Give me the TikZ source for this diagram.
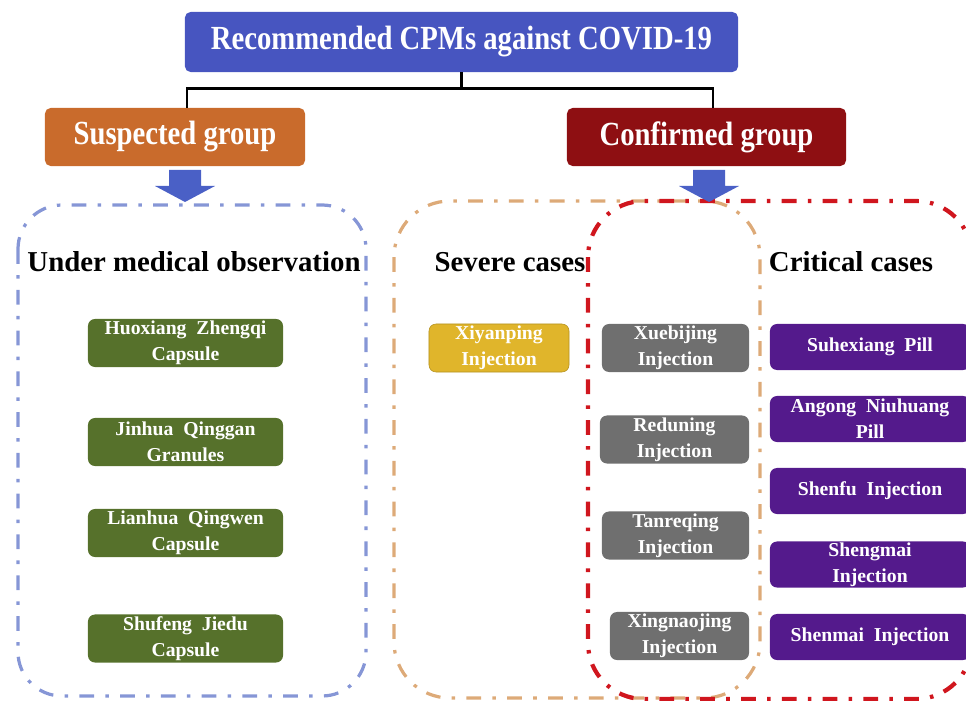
\documentclass[tikz,border=0pt]{standalone}
\usepackage{fontspec}
\setmainfont{Liberation Serif}
\newfontfamily\condfont[FakeStretch=0.85]{Liberation Serif}
\usetikzlibrary{
  positioning
}
\definecolor{titleblue}{HTML}{4755C0}
\definecolor{suspect}{HTML}{C96B2C}
\definecolor{confirm}{HTML}{8E0F12}
\definecolor{arrowblue}{HTML}{4A60C6}
\definecolor{obsline}{HTML}{8696D6}
\definecolor{severeline}{HTML}{DDAA78}
\definecolor{criticalline}{HTML}{D0161E}
\definecolor{herbgreen}{HTML}{56712B}
\definecolor{injyellow}{HTML}{E0B52B}
\definecolor{injgray}{HTML}{6F6F6F}
\definecolor{pillpurple}{HTML}{541A8C}

\begin{document}
\begin{tikzpicture}[
  x=0.025cm, y=-0.025cm,
  head/.style={rounded corners=4pt, text=white, inner sep=0pt,
               font=\condfont\fontsize{24}{28}\selectfont\bfseries},
  drug/.style={rounded corners=5pt, text=white, inner sep=0pt, align=center,
               minimum height=12mm, font=\fontsize{14}{18.5}\selectfont\bfseries},
  zone/.style={line width=2.3pt, rounded corners=14mm,
               dash pattern=on 10.5pt off 8pt on 2.5pt off 8pt},
  caselabel/.style={font=\fontsize{20.5}{24}\selectfont\bfseries},
  bracket/.style={line width=2pt, black}
]
  \useasboundingbox (0,0) rectangle (966,701);

  % Top: title and the two groups
  \node[head, fill=titleblue, minimum width=138.25mm, minimum height=15mm] (title) at (461.5, 42)
    {Recommended CPMs against COVID-19};

  \node[head, fill=suspect, minimum width=65mm, minimum height=14.5mm] (susp) at (175, 137)
    {Suspected group};

  \node[head, fill=confirm, minimum width=69.75mm, minimum height=14.5mm] (conf) at (706.5, 137)
    {Confirmed group};

  % Bracket
  \draw[bracket] (title.south) -- ++(0,16) -| ([xshift=3mm]susp.north);
  \draw[bracket] (title.south) -- ++(0,16) -| ([xshift=1.6mm]conf.north);

  % Dashed zones
  \draw[zone, severeline] (394, 201) rectangle (760, 698);
  \draw[zone, criticalline, line width=3pt] (588, 201) rectangle (972, 699);
  \draw[zone, obsline, rounded corners=11mm] (18, 205) rectangle (366, 696);

  % Down arrows
  \fill[arrowblue] (169, 170) -- ++(32,0) -- ++(0,16) -- ++(14,0) -- ++(-30,16)
    -- ++(-30,-16) -- ++(14,0) -- cycle;
  \fill[arrowblue] (693, 170) -- ++(32,0) -- ++(0,16) -- ++(14,0) -- ++(-30,16)
    -- ++(-30,-16) -- ++(14,0) -- cycle;

  % Zone labels
  \node[caselabel] (obs) at (194, 262) {Under medical observation};
  \node[caselabel] (severe) at (510, 262) {Severe cases};
  \node[caselabel] (critical) at (851, 262) {Critical cases};

  % Suspected: capsules and granules
  \node[drug, fill=herbgreen, minimum width=48.75mm] (huoxiang) at (185.5, 343)
    {Huoxiang\ \ Zhengqi\\Capsule};
  \node[drug, fill=herbgreen, minimum width=48.75mm] (jinhua) at (185.5, 442)
    {Jinhua\ \ Qinggan\\Granules};
  \node[drug, fill=herbgreen, minimum width=48.75mm] (lianhua) at (185.5, 533)
    {Lianhua\ \ Qingwen\\Capsule};
  \node[drug, fill=herbgreen, minimum width=48.75mm] (shufeng) at (185.5, 638.5)
    {Shufeng\ \ Jiedu\\Capsule};

  % Severe only
  \node[drug, fill=injyellow, draw=injyellow!80!black, thin, minimum width=35mm] (xiyanping) at (499, 348)
    {Xiyanping\\Injection};

  % Severe and critical
  \node[drug, fill=injgray, minimum width=36.75mm] (xuebijing) at (675.5, 348)
    {Xuebijing\\Injection};
  \node[drug, fill=injgray, minimum width=37.25mm] (reduning) at (674.5, 439.5)
    {Reduning\\Injection};
  \node[drug, fill=injgray, minimum width=36.75mm] (tanreqing) at (675.5, 535.5)
    {Tanreqing\\Injection};
  \node[drug, fill=injgray, minimum width=34.75mm] (xingnaojing) at (679.5, 636)
    {Xingnaojing\\Injection};

  % Critical only
  \node[drug, fill=pillpurple, minimum width=50mm, minimum height=11.5mm] (suhexiang) at (870, 347)
    {Suhexiang\ \ Pill};
  \node[drug, fill=pillpurple, minimum width=50mm, minimum height=11.5mm] (angong) at (870, 419)
    {Angong\ \ Niuhuang\\Pill};
  \node[drug, fill=pillpurple, minimum width=50mm, minimum height=11.5mm] (shenfu) at (870, 491)
    {Shenfu\ \ Injection};
  \node[drug, fill=pillpurple, minimum width=50mm, minimum height=11.5mm] (shengmai) at (870, 564.5)
    {Shengmai\\Injection};
  \node[drug, fill=pillpurple, minimum width=50mm, minimum height=11.5mm] (shenmai) at (870, 637)
    {Shenmai\ \ Injection};

\end{tikzpicture}
\end{document}
